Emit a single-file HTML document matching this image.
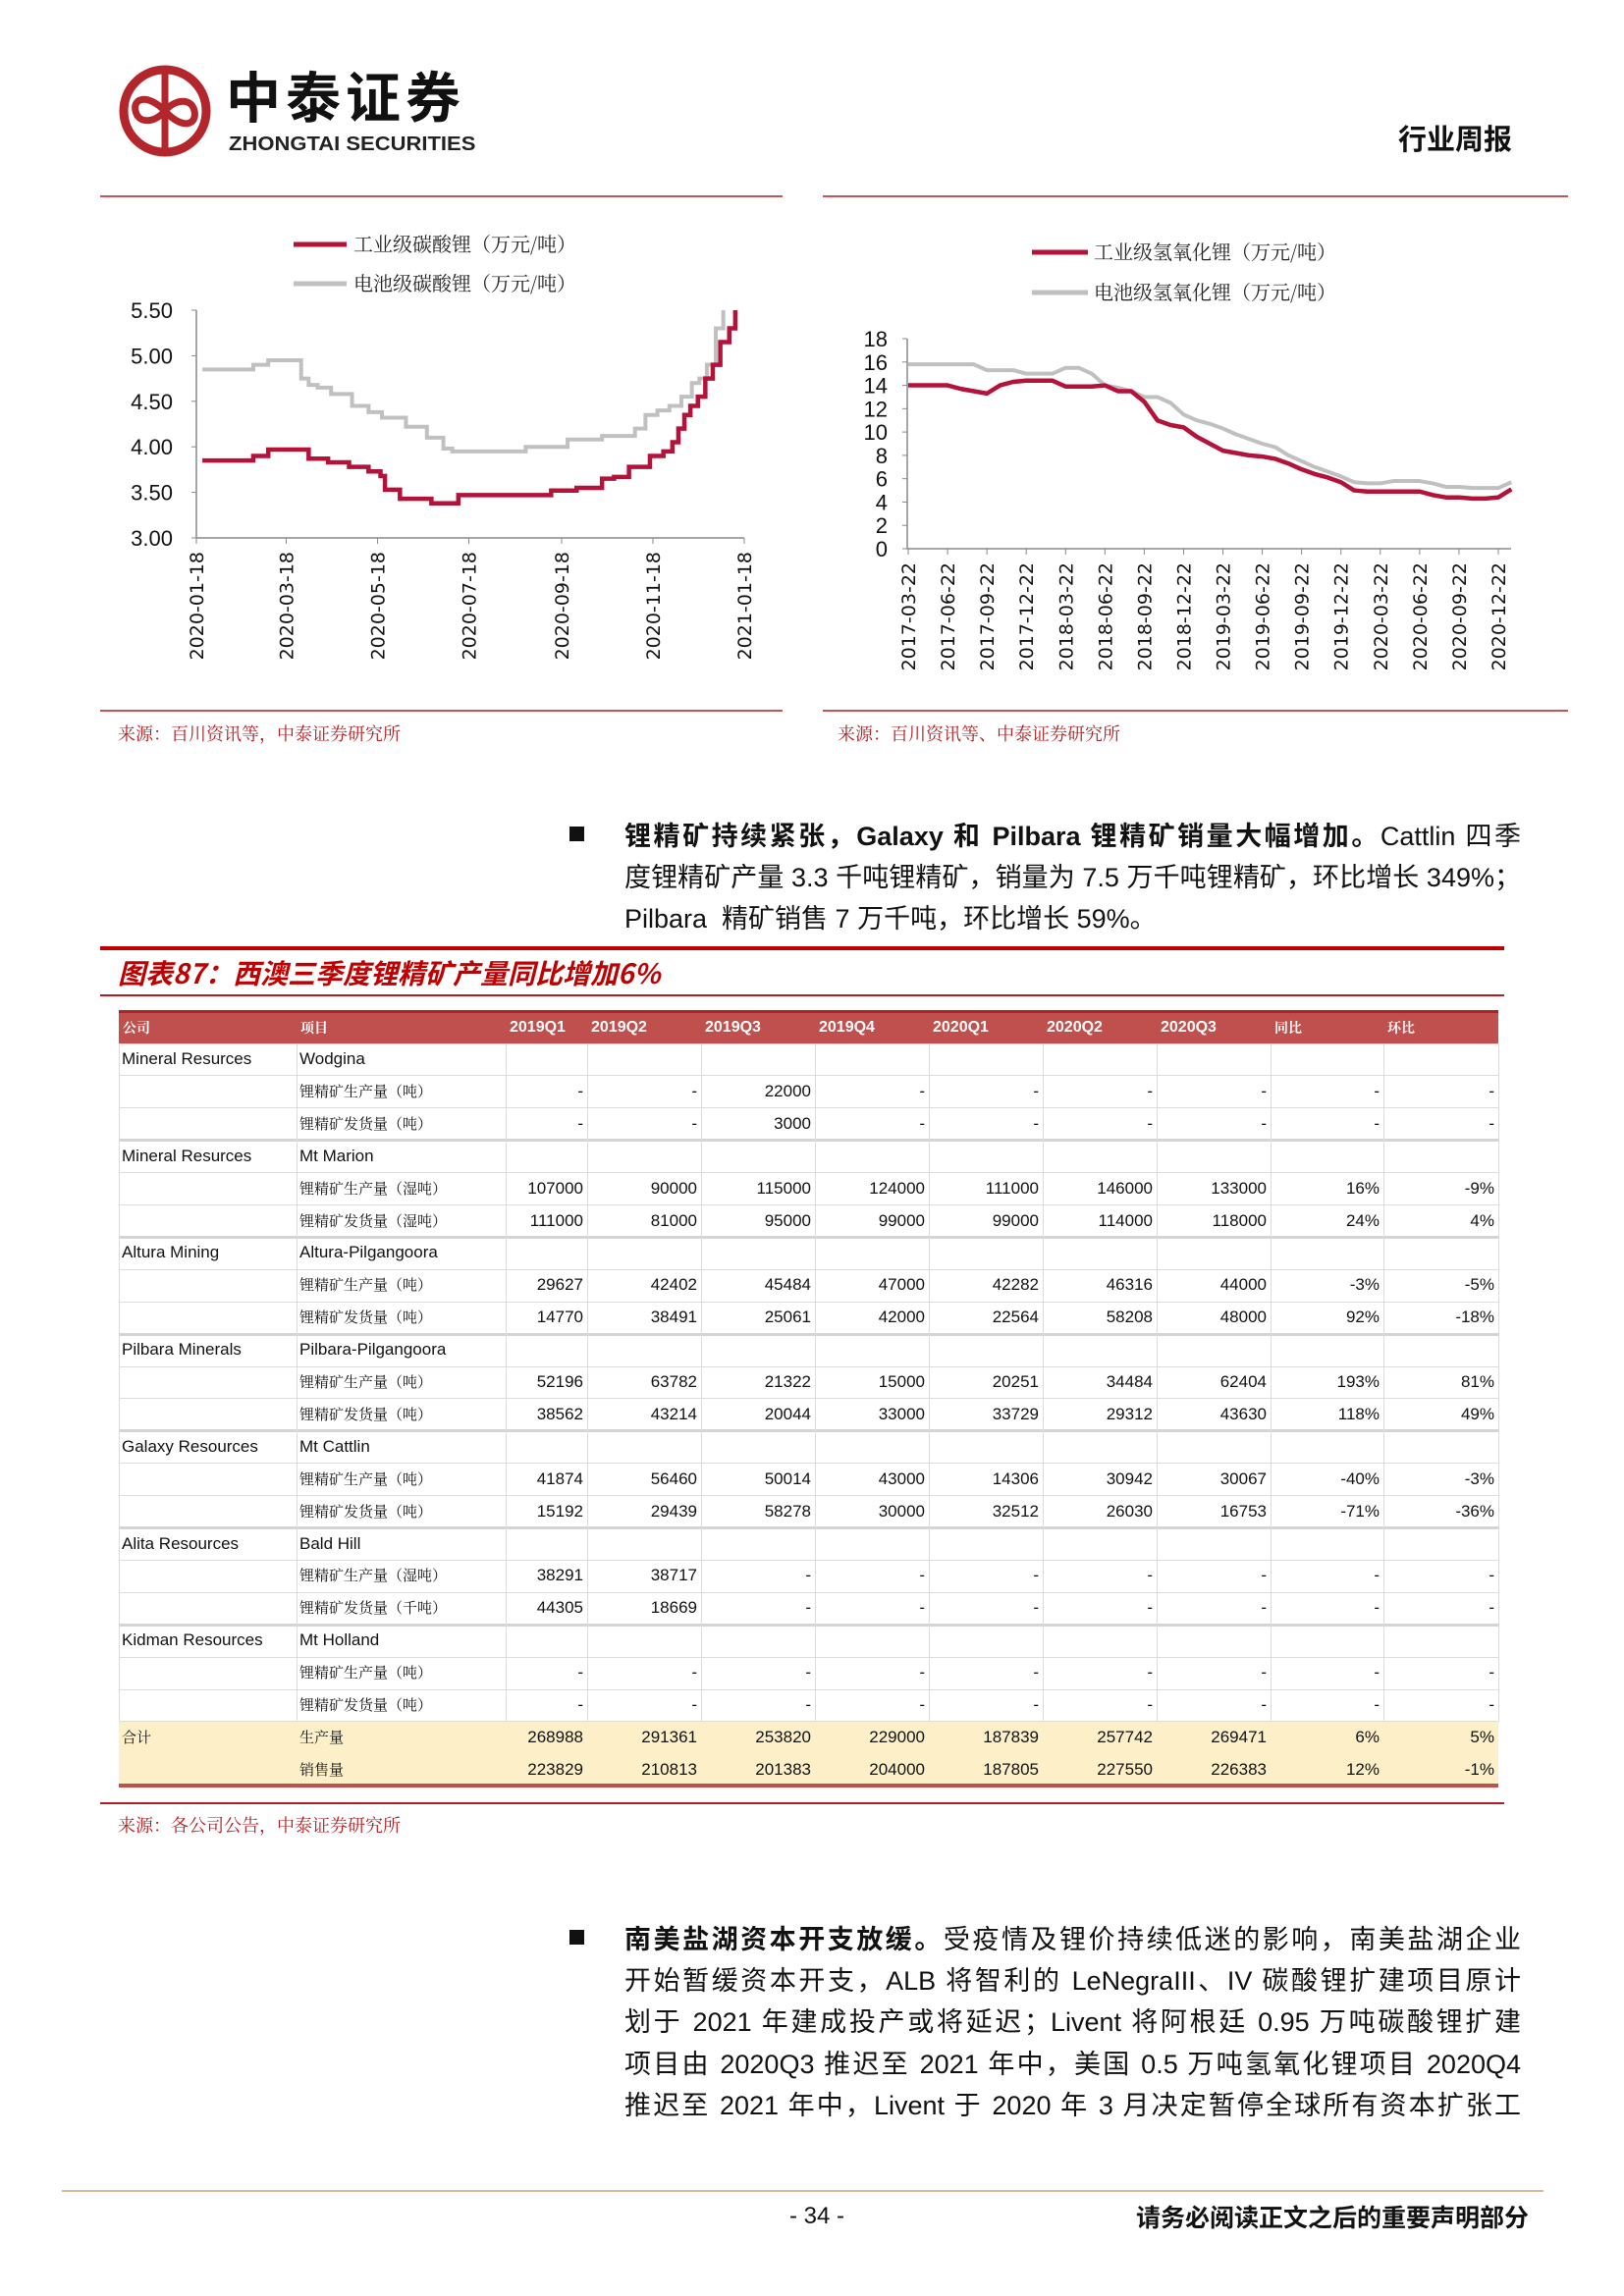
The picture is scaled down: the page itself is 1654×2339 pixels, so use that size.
<!DOCTYPE html>
<html><head><meta charset="utf-8">
<style>
body{margin:0;background:#fff;}
#page{position:relative;width:1654px;height:2339px;overflow:hidden;background:#fff;font-family:"Liberation Sans","Noto Sans CJK SC",sans-serif;}
.abs{position:absolute;}
.para{position:absolute;left:636px;width:913px;font-size:27px;color:#111;text-align:justify;text-align-last:justify;white-space:nowrap;line-height:32px;}
.para.nj{text-align-last:left;}
.cell{position:absolute;font-size:17px;color:#111;white-space:nowrap;line-height:33px;}
.cjk{font-family:"Noto Serif CJK SC","Noto Sans CJK SC",serif;font-size:15px;}
</style></head>
<body>
<div id="page">

<!-- logo -->
<svg class="abs" style="left:110px;top:55px" width="120" height="120">
 <circle cx="58" cy="58" r="42" fill="none" stroke="#b3262b" stroke-width="9"/>
 <path d="M58 16 V100" stroke="#b3262b" stroke-width="7"/>
 <path d="M58 58 C40 40 25 45 28 58 C31 72 48 70 58 58 C68 46 85 44 88 58 C91 72 76 78 58 58" fill="none" stroke="#b3262b" stroke-width="7"/>
</svg>
<div class="abs" style="left:230px;top:66px;font-size:56px;font-weight:bold;color:#111;letter-spacing:5px;font-family:'Noto Sans CJK SC',sans-serif;line-height:62px;">中泰证券</div>
<div class="abs" style="left:233px;top:136px;font-size:20px;font-weight:bold;color:#222;letter-spacing:0px;line-height:22px;transform:scaleX(1.1);transform-origin:left;">ZHONGTAI SECURITIES</div>
<div class="abs" style="left:1420px;top:122px;width:120px;text-align:right;font-size:29px;font-weight:bold;color:#111;font-family:'Noto Sans CJK SC',sans-serif;line-height:36px;">行业周报</div>

<svg class="abs" style="left:0;top:0" width="1654" height="1000" id="charts">
 <line x1="102" y1="200" x2="797" y2="200" stroke="#b01c20" stroke-width="1.5"/>
 <line x1="838" y1="200" x2="1597" y2="200" stroke="#b01c20" stroke-width="1.5"/>
 <line x1="102" y1="724" x2="797" y2="724" stroke="#b01c20" stroke-width="1.5"/>
 <line x1="838" y1="724" x2="1597" y2="724" stroke="#b01c20" stroke-width="1.5"/>
 <g id="leftChart"></g>
 <g id="rightChart"></g>
</svg>
<div class="abs" style="left:120px;top:734px;font-size:18px;color:#b01c20;font-family:'Noto Serif CJK SC',serif;">来源：百川资讯等，中泰证券研究所</div>
<div class="abs" style="left:853px;top:734px;font-size:18px;color:#b01c20;font-family:'Noto Serif CJK SC',serif;">来源：百川资讯等、中泰证券研究所</div>

<!-- paragraph 1 -->
<div class="abs" style="left:580px;top:842px;width:15px;height:15px;background:#111;"></div>
<div class="para" style="top:836px"><b>锂精矿持续紧张，Galaxy 和 Pilbara 锂精矿销量大幅增加。</b>Cattlin 四季</div>
<div class="para" style="top:878px">度锂精矿产量 3.3 千吨锂精矿，销量为 7.5 万千吨锂精矿，环比增长 349%；</div>
<div class="para nj" style="top:920px">Pilbara&nbsp; 精矿销售 7 万千吨，环比增长 59%。</div>

<!-- figure title -->
<div class="abs" style="left:102px;top:964px;width:1430px;height:4px;background:#c00000;"></div>
<div class="abs" style="left:120px;top:974px;font-size:28px;font-weight:bold;font-style:italic;color:#c00000;font-family:'Noto Sans CJK SC',sans-serif;line-height:34px;">图表87：西澳三季度锂精矿产量同比增加6%</div>
<div class="abs" style="left:102px;top:1013px;width:1430px;height:1.5px;background:#b01c20;"></div>

<div id="table" class="abs" style="left:0;top:0;width:1654px;height:1840px;"></div>

<div class="abs" style="left:102px;top:1836px;width:1430px;height:1.5px;background:#b01c20;"></div>
<div class="abs" style="left:120px;top:1846px;font-size:18px;color:#b01c20;font-family:'Noto Serif CJK SC',serif;">来源：各公司公告，中泰证券研究所</div>

<!-- paragraph 2 -->
<div class="abs" style="left:580px;top:1966px;width:15px;height:15px;background:#111;"></div>
<div class="para" style="top:1960px"><b>南美盐湖资本开支放缓。</b>受疫情及锂价持续低迷的影响，南美盐湖企业</div>
<div class="para" style="top:2002px">开始暂缓资本开支，ALB 将智利的 LeNegraIII、IV 碳酸锂扩建项目原计</div>
<div class="para" style="top:2044px">划于 2021 年建成投产或将延迟；Livent 将阿根廷 0.95 万吨碳酸锂扩建</div>
<div class="para" style="top:2087px">项目由 2020Q3 推迟至 2021 年中，美国 0.5 万吨氢氧化锂项目 2020Q4</div>
<div class="para" style="top:2129px">推迟至 2021 年中，Livent 于 2020 年 3 月决定暂停全球所有资本扩张工</div>

<!-- footer -->
<div class="abs" style="left:63px;top:2231px;width:1509px;height:2px;background:#d8b99a;"></div>
<div class="abs" style="left:780px;top:2244px;width:104px;text-align:center;font-size:24px;color:#111;">- 34 -</div>
<div class="abs" style="left:1057px;top:2240px;width:500px;text-align:right;font-size:25px;font-weight:bold;color:#111;font-family:'Noto Sans CJK SC',sans-serif;">请务必阅读正文之后的重要声明部分</div>
</div>

<script>
// ---------- left chart data (day offset from 2020-01-18) ----------
const leftDays = [4,38,48,75,88,102,115,123,126,136,157,175,237,254,271,279,289,303,312,318,322,326,330,335,340,345,350,356,360];
const leftIndustrial = [3.85,3.90,3.97,3.87,3.83,3.78,3.73,3.68,3.53,3.43,3.38,3.47,3.52,3.55,3.65,3.67,3.78,3.90,3.95,4.05,4.20,4.35,4.45,4.55,4.75,4.90,5.15,5.30,5.50];
const leftBatDays = [4,38,48,70,75,81,90,104,115,124,140,154,165,171,220,248,271,293,300,308,316,324,331,336,341,347,352];
const leftBattery = [4.85,4.90,4.95,4.75,4.68,4.65,4.58,4.45,4.38,4.32,4.22,4.10,3.98,3.95,4.00,4.08,4.12,4.20,4.35,4.40,4.45,4.55,4.70,4.75,4.90,5.30,5.55];
const leftTickDays = [0,60,121,182,244,305,366];
const leftTickLabels = ["2020-01-18","2020-03-18","2020-05-18","2020-07-18","2020-09-18","2020-11-18","2021-01-18"];
const leftYTicks = [3.00,3.50,4.00,4.50,5.00,5.50];
// ---------- right chart data (month index from 2017-03) ----------
const rightIndustrial = [14.0,14.0,14.0,14.0,13.7,13.5,13.3,14.0,14.3,14.4,14.4,14.4,13.9,13.9,13.9,14.0,13.5,13.5,12.6,11.0,10.6,10.4,9.6,9.0,8.4,8.2,8.0,7.9,7.7,7.3,6.8,6.4,6.1,5.7,5.0,4.9,4.9,4.9,4.9,4.9,4.6,4.4,4.4,4.3,4.3,4.4,5.1];
const rightBattery = [15.8,15.8,15.8,15.8,15.8,15.8,15.3,15.3,15.3,15.0,15.0,15.0,15.5,15.5,15.0,14.0,13.8,13.5,13.0,13.0,12.5,11.5,11.0,10.7,10.3,9.8,9.4,9.0,8.7,8.0,7.5,7.0,6.6,6.2,5.7,5.6,5.6,5.8,5.8,5.8,5.6,5.3,5.3,5.2,5.2,5.2,5.7];
const rightTickLabels = ["2017-03-22","2017-06-22","2017-09-22","2017-12-22","2018-03-22","2018-06-22","2018-09-22","2018-12-22","2019-03-22","2019-06-22","2019-09-22","2019-12-22","2020-03-22","2020-06-22","2020-09-22","2020-12-22"];
const rightYTicks = [0,2,4,6,8,10,12,14,16,18];

const NS="http://www.w3.org/2000/svg";
function mk(parent,tag,attrs){const e=document.createElementNS(NS,tag);for(const k in attrs)e.setAttribute(k,attrs[k]);parent.appendChild(e);return e;}

// left chart
(function(){
 const g=document.getElementById('leftChart');
 const x0=200,x1=758,y0=548,y1=316;
 const xS=d=>x0+(x1-x0)*d/366;
 const yS=v=>y0-(y0-y1)*(v-3)/2.5;
 const clip=mk(g,'clipPath',{id:'lclip'});mk(clip,'rect',{x:x0,y:y1,width:x1-x0+5,height:y0-y1});
 mk(g,'line',{x1:x0,y1:y1,x2:x0,y2:y0,stroke:'#888','stroke-width':1.5});
 mk(g,'line',{x1:x0,y1:y0,x2:x1,y2:y0,stroke:'#888','stroke-width':1.5});
 leftYTicks.forEach(v=>{
  mk(g,'line',{x1:x0-5,y1:yS(v),x2:x0,y2:yS(v),stroke:'#888'});
  const t=mk(g,'text',{x:x0-24,y:yS(v)+8,'text-anchor':'end','font-size':22,fill:'#111','font-family':'Liberation Sans Narrow, Liberation Sans, sans-serif'});
  t.textContent=v.toFixed(2);
  
  
 });
 leftTickDays.forEach((d,i)=>{
  mk(g,'line',{x1:xS(d),y1:y0,x2:xS(d),y2:y0+6,stroke:'#888'});
  const t=mk(g,'text',{transform:`translate(${xS(d)+7},${y0+14}) rotate(-90)`,'text-anchor':'end','font-size':19,fill:'#111','font-family':'DejaVu Sans, sans-serif'});
  t.textContent=leftTickLabels[i];
  
  
 });
 function step(days,vals,color,w,name){
  let d=`M${xS(days[0])},${yS(vals[0])}`;
  for(let i=1;i<days.length;i++){d+=` H${xS(days[i])} V${yS(vals[i])}`;}
  const p=mk(g,'path',{d:d,fill:'none',stroke:color,'stroke-width':w,'clip-path':'url(#lclip)'});
  
  
 }
 step(leftBatDays,leftBattery,'#c0c0c0',4,'battery-grade-carbonate-line');
 step(leftDays,leftIndustrial,'#b5123a',4.5,'industrial-grade-carbonate-line');
 mk(g,'line',{x1:299,y1:249,x2:353,y2:249,stroke:'#b5123a','stroke-width':5});
 mk(g,'line',{x1:299,y1:289,x2:353,y2:289,stroke:'#c0c0c0','stroke-width':5});
 const l1=mk(g,'text',{x:360,y:256,'font-size':20,fill:'#222','font-family':'Noto Serif CJK SC, serif'});l1.textContent='工业级碳酸锂（万元/吨）';
 
 
 const l2=mk(g,'text',{x:360,y:296,'font-size':20,fill:'#222','font-family':'Noto Serif CJK SC, serif'});l2.textContent='电池级碳酸锂（万元/吨）';
 
 
})();

// right chart
(function(){
 const g=document.getElementById('rightChart');
 const x0=924,xEnd=1539,y0=559,y1=345;
 const mS=m=>925+m*(1526-925)/45;
 const yS=v=>y0-(y0-y1)*v/18;
 mk(g,'line',{x1:x0,y1:y1,x2:x0,y2:y0,stroke:'#888','stroke-width':1.5});
 mk(g,'line',{x1:x0,y1:y0,x2:xEnd,y2:y0,stroke:'#888','stroke-width':1.5});
 rightYTicks.forEach(v=>{
  mk(g,'line',{x1:x0-5,y1:yS(v),x2:x0,y2:yS(v),stroke:'#888'});
  const t=mk(g,'text',{x:x0-20,y:yS(v)+8,'text-anchor':'end','font-size':22,fill:'#111','font-family':'Liberation Sans Narrow, Liberation Sans, sans-serif'});
  t.textContent=v;
  
  
 });
 rightTickLabels.forEach((lab,i)=>{
  const x=mS(i*3);
  mk(g,'line',{x1:x,y1:y0,x2:x,y2:y0+6,stroke:'#888'});
  const t=mk(g,'text',{transform:`translate(${x+7},${y0+14}) rotate(-90)`,'text-anchor':'end','font-size':19,fill:'#111','font-family':'DejaVu Sans, sans-serif'});
  t.textContent=lab;
  
  
 });
 function line(vals,color,w,name){
  const pts=vals.map((v,i)=>`${mS(i)},${yS(v)}`).join(' ');
  const p=mk(g,'polyline',{points:pts,fill:'none',stroke:color,'stroke-width':w,'stroke-linejoin':'round'});
  
  
 }
 line(rightBattery,'#c0c0c0',4,'battery-grade-hydroxide-line');
 line(rightIndustrial,'#b5123a',4.5,'industrial-grade-hydroxide-line');
 mk(g,'line',{x1:1051,y1:257,x2:1108,y2:257,stroke:'#b5123a','stroke-width':5});
 mk(g,'line',{x1:1051,y1:298,x2:1108,y2:298,stroke:'#c0c0c0','stroke-width':5});
 const l1=mk(g,'text',{x:1114,y:264,'font-size':20,fill:'#222','font-family':'Noto Serif CJK SC, serif'});l1.textContent='工业级氢氧化锂（万元/吨）';
 
 
 const l2=mk(g,'text',{x:1114,y:305,'font-size':20,fill:'#222','font-family':'Noto Serif CJK SC, serif'});l2.textContent='电池级氢氧化锂（万元/吨）';
 
 
})();

// ---------- table ----------
const colX=[121,302,515,598,714,830,946,1062,1178,1294,1409,1526];
const headers=["公司","项目","2019Q1","2019Q2","2019Q3","2019Q4","2020Q1","2020Q2","2020Q3","同比","环比"];
const rows=[
 ["Mineral Resurces","Wodgina"],
 ["","锂精矿生产量（吨）","-","-","22000","-","-","-","-","-","-"],
 ["","锂精矿发货量（吨）","-","-","3000","-","-","-","-","-","-"],
 ["Mineral Resurces","Mt Marion"],
 ["","锂精矿生产量（湿吨）","107000","90000","115000","124000","111000","146000","133000","16%","-9%"],
 ["","锂精矿发货量（湿吨）","111000","81000","95000","99000","99000","114000","118000","24%","4%"],
 ["Altura Mining","Altura-Pilgangoora"],
 ["","锂精矿生产量（吨）","29627","42402","45484","47000","42282","46316","44000","-3%","-5%"],
 ["","锂精矿发货量（吨）","14770","38491","25061","42000","22564","58208","48000","92%","-18%"],
 ["Pilbara Minerals","Pilbara-Pilgangoora"],
 ["","锂精矿生产量（吨）","52196","63782","21322","15000","20251","34484","62404","193%","81%"],
 ["","锂精矿发货量（吨）","38562","43214","20044","33000","33729","29312","43630","118%","49%"],
 ["Galaxy Resources","Mt Cattlin"],
 ["","锂精矿生产量（吨）","41874","56460","50014","43000","14306","30942","30067","-40%","-3%"],
 ["","锂精矿发货量（吨）","15192","29439","58278","30000","32512","26030","16753","-71%","-36%"],
 ["Alita Resources","Bald Hill"],
 ["","锂精矿生产量（湿吨）","38291","38717","-","-","-","-","-","-","-"],
 ["","锂精矿发货量（千吨）","44305","18669","-","-","-","-","-","-","-"],
 ["Kidman Resources","Mt Holland"],
 ["","锂精矿生产量（吨）","-","-","-","-","-","-","-","-","-"],
 ["","锂精矿发货量（吨）","-","-","-","-","-","-","-","-","-"],
 ["合计","生产量","268988","291361","253820","229000","187839","257742","269471","6%","5%"],
 ["","销售量","223829","210813","201383","204000","187805","227550","226383","12%","-1%"]
];
(function(){
 const T=document.getElementById('table');
 const top=1029,hh=34,rh=32.9,left=121,right=1526;
 function div(css,txt,cls){const d=document.createElement('div');d.className=(cls||'abs');d.style.cssText=css;if(txt!==undefined)d.textContent=txt;T.appendChild(d);return d;}
 const hb=div(`position:absolute;left:${left}px;top:${top}px;width:${right-left}px;height:${hh}px;background:#c0504d;border-top:3px solid #b0222a;box-sizing:border-box;`);
 
 
 headers.forEach((h,i)=>{
  const isC=i<2||i>8;
  const c=div(`position:absolute;left:${colX[i]+4}px;top:${top+1}px;line-height:${hh}px;color:#fff;font-weight:bold;white-space:nowrap;font-size:${isC?14:16}px;${isC?"font-family:'Noto Serif CJK SC',serif;":""}`,h);
  
  
 });
 const r0=top+hh;
 const yb=div(`position:absolute;left:${left}px;top:${r0+21*rh}px;width:${right-left}px;height:${2*rh}px;background:#fdf0c8;`);
 
 
 for(let r=0;r<=21;r++){
  const thick=(r%3===0&&r>0&&r<21);
  const ln=div(`position:absolute;left:${left}px;top:${r0+r*rh-(thick?1.5:0.5)}px;width:${right-left}px;height:${thick?3:1}px;background:${thick?'#d4d4d4':'#dcdcdc'};`);
  
  
 }
 colX.forEach((x,i)=>{
  const vl=div(`position:absolute;left:${x}px;top:${r0}px;width:1px;height:${21*rh}px;background:#dcdcdc;`);
  
  
 });
 const bl=div(`position:absolute;left:${left}px;top:${r0+23*rh-3}px;width:${right-left}px;height:4px;background:#c0504d;`);
 
 
 rows.forEach((row,r)=>{
  const y=r0+r*rh;
  row.forEach((v,i)=>{
   if(v==="")return;
   const cjk=/[\u4e00-\u9fff]/.test(v);
   let css=`top:${y}px;line-height:${rh}px;`;
   if(i<2){css+=`left:${colX[i]+3}px;`;}
   else{css+=`left:${colX[i]}px;width:${colX[i+1]-colX[i]-4}px;text-align:right;`;}
   const c=div(css,v,'cell'+(cjk?' cjk':''));
   
   
  });
 });
})();
</script>
</body></html>
